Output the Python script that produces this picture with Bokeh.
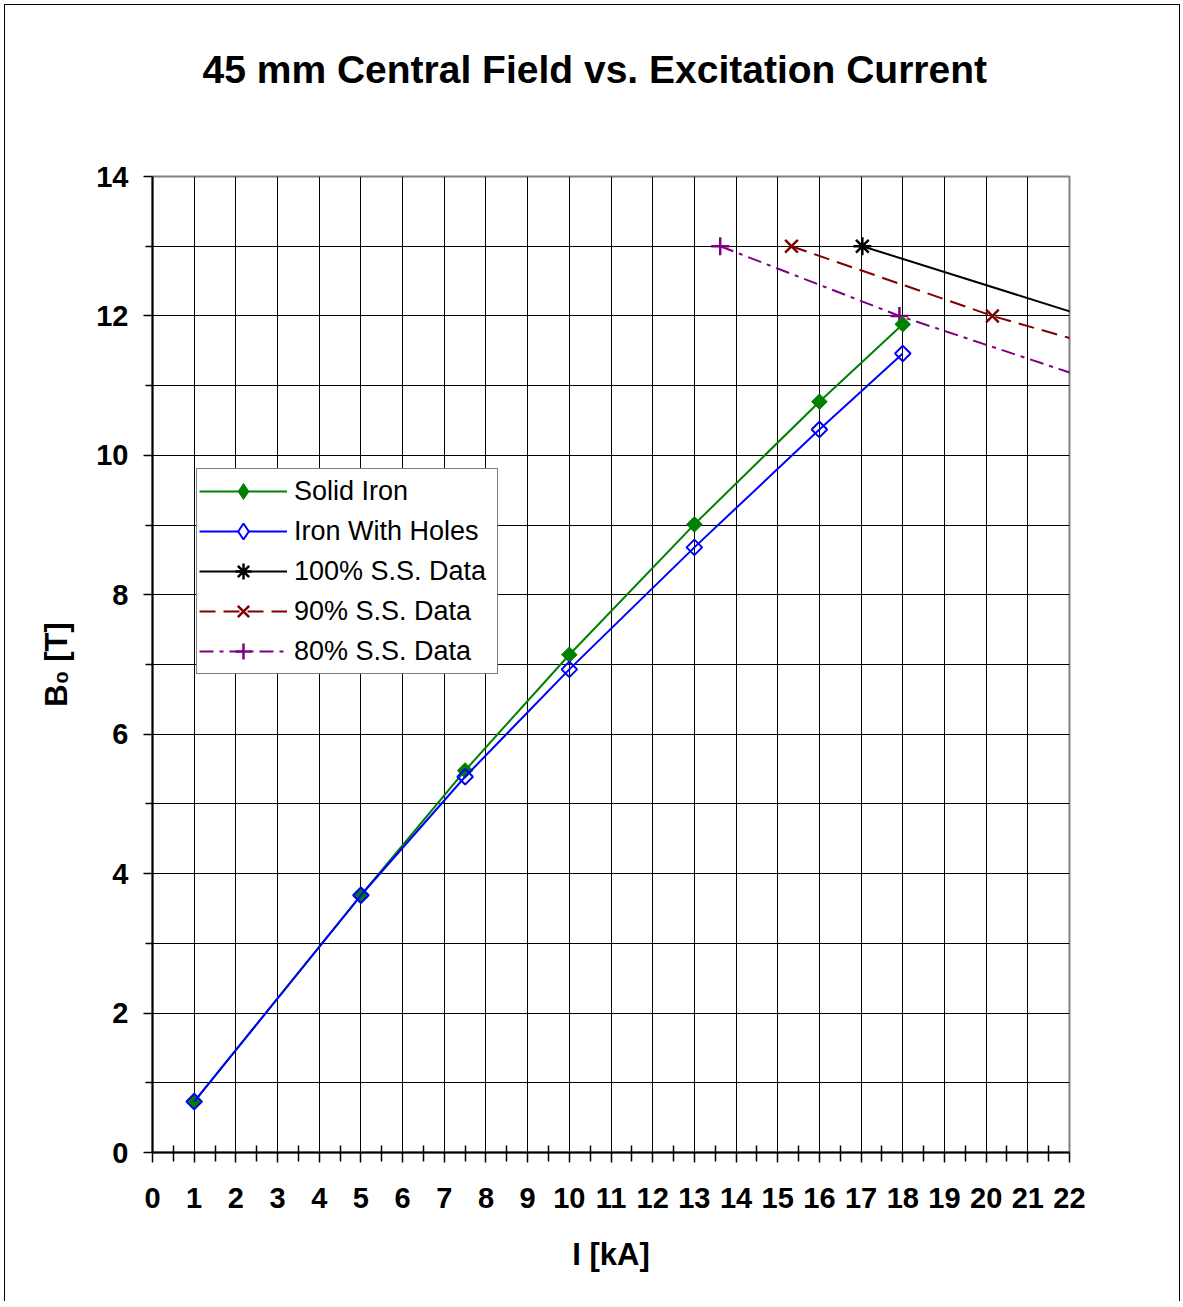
from bokeh.plotting import figure
from bokeh.layouts import column
from bokeh.models import FixedTicker, Range1d, Legend, LegendItem, Title
from bokeh.embed import file_html
from bokeh.resources import INLINE
from math import pi

# ---- data ----
solid_x = [1, 5, 7.5, 10, 13, 16, 18]
solid_y = [0.73, 3.69, 5.48, 7.14, 9.01, 10.77, 11.88]
holes_x = [1, 5, 7.5, 10, 13, 16, 18]
holes_y = [0.73, 3.69, 5.39, 6.93, 8.68, 10.37, 11.46]
ss100_x = [17.03, 22.35]
ss100_y = [13, 12]
ss90_x = [15.33, 20.15, 26.0]
ss90_y = [13, 12, 11]
ss80_x = [13.62, 17.92, 22.95]
ss80_y = [13, 12, 11]

x_ticks = list(range(0, 23))
x_minor = [i + 0.5 for i in range(22)]
y_ticks = [0, 2, 4, 6, 8, 10, 12, 14]
y_minor = [1, 3, 5, 7, 9, 11, 13]

title_text = "45 mm Central Field vs. Excitation Current"
x_label = "I [kA]"
y_label = "B\u2080 [T]"

FONT = "Liberation Sans"

p = figure(width=1174, height=1296,
           x_range=Range1d(0, 22), y_range=Range1d(0, 14),
           output_backend="svg", toolbar_location=None,
           min_border_left=147, min_border_right=110,
           min_border_top=171, min_border_bottom=149)
p.background_fill_color = "white"
p.border_fill_color = "white"
p.outline_line_color = "#808080"
p.outline_line_width = 2

# spacer between frame and title (closest to the frame)
p.add_layout(Title(text=" ", text_font_size="1px", standoff=43), "above")

p.title.text = title_text
p.title.align = "left"
p.title.offset = 50
p.title.text_font = FONT
p.title.text_font_size = "39px"
p.title.text_font_style = "bold"
p.title.text_color = "black"
p.title.standoff = 80

xt = FixedTicker(ticks=x_ticks, minor_ticks=x_minor)
yt = FixedTicker(ticks=y_ticks, minor_ticks=y_minor)
p.xaxis.ticker = xt
p.yaxis.ticker = yt
p.xgrid.ticker = xt
p.ygrid.ticker = yt

for g in (p.xgrid, p.ygrid):
    g.grid_line_color = "black"
    g.grid_line_width = 1
p.ygrid.minor_grid_line_color = "black"
p.ygrid.minor_grid_line_width = 1

for ax in (p.xaxis, p.yaxis):
    ax.axis_line_color = "black"
    ax.axis_line_width = 2
    ax.major_tick_line_color = "black"
    ax.major_tick_line_width = 1.5
    ax.minor_tick_line_color = "black"
    ax.minor_tick_line_width = 1.5
    ax.major_label_text_font = FONT
    ax.major_label_text_font_size = "29px"
    ax.major_label_text_font_style = "bold"
    ax.major_label_text_color = "black"
    ax.axis_label_text_font = FONT
    ax.axis_label_text_font_size = "31px"
    ax.axis_label_text_font_style = "bold"
    ax.axis_label_text_color = "black"

p.xaxis.axis_label = x_label
p.xaxis.major_tick_in = 0
p.xaxis.major_tick_out = 10
p.xaxis.minor_tick_in = 7
p.xaxis.minor_tick_out = 9
p.xaxis.major_label_standoff = 25
p.xaxis.axis_label_standoff = 26

p.yaxis.axis_label = y_label
p.yaxis.major_tick_in = 0
p.yaxis.major_tick_out = 9
p.yaxis.minor_tick_in = 0
p.yaxis.minor_tick_out = 7
p.yaxis.major_label_standoff = 15
p.yaxis.axis_label_standoff = 19

# ---- series ----
r80l = p.line(ss80_x, ss80_y, line_color="#800080", line_width=2, line_dash="14 6 4 6")
r80m = p.scatter(ss80_x, ss80_y, marker="cross", size=18, line_color="#800080", line_width=2.5)
r90l = p.line(ss90_x, ss90_y, line_color="#800000", line_width=2, line_dash="16 8")
r90m = p.scatter(ss90_x, ss90_y, marker="x", size=18, line_color="#800000", line_width=2.5)
r100l = p.line(ss100_x, ss100_y, line_color="black", line_width=2)
r100m = p.scatter(ss100_x, ss100_y, marker="asterisk", size=18, line_color="black", line_width=2.5)

rsl = p.line(solid_x, solid_y, line_color="#008000", line_width=2)
rsm = p.scatter(solid_x, solid_y, marker="square", angle=pi / 4, size=11,
                fill_color="#008000", line_color="#008000", line_width=1)
rhl = p.line(holes_x, holes_y, line_color="#0000FF", line_width=2)
rhm = p.scatter(holes_x, holes_y, marker="square", angle=pi / 4, size=11,
                fill_color=None, line_color="#0000FF", line_width=2)

# legend markers (the legend draws markers unrotated, so use the diamond shape;
# size 0 keeps them hidden under the plotted markers)
lg_s = p.scatter(solid_x, solid_y, marker="diamond", size=0,
                 fill_color="#008000", line_color="#008000", line_width=1)
lg_h = p.scatter(holes_x, holes_y, marker="diamond", size=0,
                 fill_color="white", line_color="#0000FF", line_width=2)

legend = Legend(items=[
    LegendItem(label="Solid Iron", renderers=[rsl, lg_s]),
    LegendItem(label="Iron With Holes", renderers=[rhl, lg_h]),
    LegendItem(label="100% S.S. Data", renderers=[r100l, r100m]),
    LegendItem(label="90% S.S. Data", renderers=[r90l, r90m]),
    LegendItem(label="80% S.S. Data", renderers=[r80l, r80m]),
], location=(44, 478))
legend.glyph_width = 88
legend.glyph_height = 40
legend.spacing = 0
legend.padding = 2
legend.margin = 0
legend.label_standoff = 7
legend.label_width = 201
legend.label_text_font = FONT
legend.label_text_font_size = "27px"
legend.label_text_color = "black"
legend.border_line_color = "black"
legend.border_line_width = 1
legend.background_fill_color = "white"
legend.background_fill_alpha = 1
p.add_layout(legend)

# Excel chart-area frame around the whole chart
layout = column(p, styles={
    "margin-left": "4px", "margin-top": "4px",
    "border-left": "1.5px solid black",
    "border-top": "1.5px solid black",
    "border-right": "1.5px solid black",
})

open("out.html", "w").write(file_html(layout, INLINE))
